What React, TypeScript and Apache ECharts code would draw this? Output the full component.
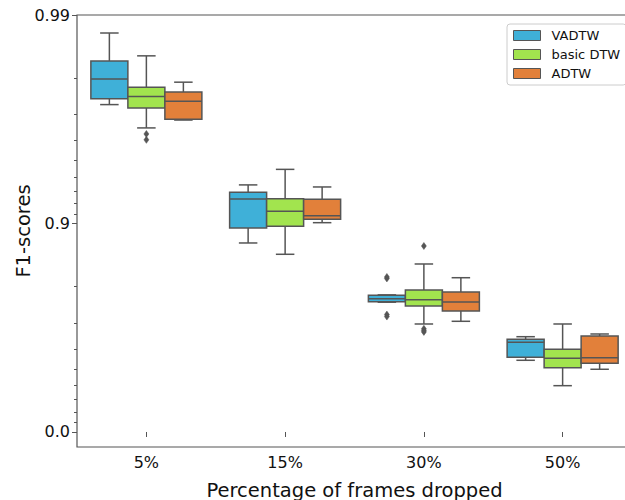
import React, { useEffect, useRef } from "react";
import * as echarts from "echarts";

const categories = ["5%", "15%", "30%", "50%"];
const seriesNames = ["VADTW", "basic DTW", "ADTW"];
const seriesColors = ["#3fb0d8", "#a2e44e", "#e2803a"];

// [min, Q1, median, Q3, max] F1-scores per category
const vadtwStats = [
  [0.9731, 0.9748, 0.9797, 0.9834, 0.9878],
  [0.876, 0.8949, 0.9237, 0.9292, 0.9347],
  [0.7615, 0.7629, 0.7706, 0.779, 0.78],
  [0.547, 0.5618, 0.6286, 0.6407, 0.6509],
];
const basicStats = [
  [0.9652, 0.9721, 0.9754, 0.9778, 0.9843],
  [0.8595, 0.8969, 0.9126, 0.924, 0.945],
  [0.6966, 0.7514, 0.7681, 0.7916, 0.8436],
  [0.4004, 0.5085, 0.5569, 0.5988, 0.6966],
];
const adtwStats = [
  [0.9681, 0.9684, 0.9741, 0.9766, 0.979],
  [0.9009, 0.9045, 0.9082, 0.9235, 0.9332],
  [0.7055, 0.7371, 0.7622, 0.7869, 0.818],
  [0.4997, 0.5318, 0.5599, 0.6537, 0.6612],
];
// [category index, F1-score]
const vadtwOutliers = [
  [2, 0.8195],
  [2, 0.8165],
  [2, 0.7265],
  [2, 0.7205],
];
const basicOutliers = [
  [0, 0.9628],
  [0, 0.9603],
  [2, 0.8718],
  [2, 0.68],
  [2, 0.674],
  [2, 0.669],
];
const adtwOutliers: number[][] = [];

const yTickValues = [0.0, 0.9, 0.99];
const yTickLabels = ["0.0", "0.9", "0.99"];
const yMinorTickValues = [
  0.1, 0.2, 0.3, 0.4, 0.5, 0.6, 0.7, 0.8, 0.91, 0.92, 0.93, 0.94, 0.95, 0.96,
  0.97, 0.98,
];

const EDGE = "#555555";
const FONT = "DejaVu Sans";

const toAxis = (f: number) => -Math.log10(1 - f);

const allStats = [vadtwStats, basicStats, adtwStats];
const allOutliers = [vadtwOutliers, basicOutliers, adtwOutliers];

function makeBoxRender(sIdx: number, color: string) {
  return (params: any, api: any) => {
    const cat = api.value(0);
    const center = api.coord([cat, 0]);
    const band = api.size([1, 0])[0];
    const boxW = (band * 0.8) / 3;
    const cx = center[0] + (sIdx - 1) * boxW;
    const y = (k: number) => api.coord([cat, api.value(k)])[1];
    const yMin = y(1);
    const yQ1 = y(2);
    const yMed = y(3);
    const yQ3 = y(4);
    const yMax = y(5);
    const half = boxW / 2;
    const cap = boxW / 4;
    const ls = { stroke: EDGE, lineWidth: 1.5 };
    return {
      type: "group",
      children: [
        { type: "line", shape: { x1: cx, y1: yQ3, x2: cx, y2: yMax }, style: ls },
        { type: "line", shape: { x1: cx, y1: yQ1, x2: cx, y2: yMin }, style: ls },
        { type: "line", shape: { x1: cx - cap, y1: yMax, x2: cx + cap, y2: yMax }, style: ls },
        { type: "line", shape: { x1: cx - cap, y1: yMin, x2: cx + cap, y2: yMin }, style: ls },
        {
          type: "rect",
          shape: { x: cx - half, y: yQ3, width: boxW, height: yQ1 - yQ3 },
          style: { fill: color, stroke: EDGE, lineWidth: 1.5 },
        },
        { type: "line", shape: { x1: cx - half, y1: yMed, x2: cx + half, y2: yMed }, style: ls },
      ],
    };
  };
}

function makeOutlierRender(sIdx: number) {
  return (params: any, api: any) => {
    const cat = api.value(0);
    const band = api.size([1, 0])[0];
    const boxW = (band * 0.8) / 3;
    const p = api.coord([cat, api.value(1)]);
    const cx = p[0] + (sIdx - 1) * boxW;
    const cy = p[1];
    return {
      type: "polygon",
      shape: {
        points: [
          [cx, cy - 3.5],
          [cx + 2.5, cy],
          [cx, cy + 3.5],
          [cx - 2.5, cy],
        ],
      },
      style: { fill: EDGE, stroke: EDGE, lineWidth: 0.5 },
    };
  };
}

export default function App() {
  const ref = useRef<HTMLDivElement>(null);
  useEffect(() => {
    if (!ref.current) return;
    const chart = echarts.init(ref.current, undefined, { renderer: "svg" });
    const series: any[] = [];
    seriesNames.forEach((name, s) => {
      series.push({
        name,
        type: "custom",
        xAxisIndex: 0,
        yAxisIndex: 0,
        itemStyle: { color: seriesColors[s] },
        renderItem: makeBoxRender(s, seriesColors[s]),
        encode: { x: 0, y: [1, 2, 3, 4, 5] },
        data: allStats[s].map((st, i) => [i, ...st.map(toAxis)]),
        z: 3,
      });
      if (allOutliers[s].length) {
        series.push({
          name,
          type: "custom",
          xAxisIndex: 0,
          yAxisIndex: 0,
          itemStyle: { color: seriesColors[s] },
          renderItem: makeOutlierRender(s),
          encode: { x: 0, y: 1 },
          data: allOutliers[s].map((o) => [o[0], toAxis(o[1])]),
          z: 3,
        });
      }
    });
    const tickPos = yTickValues.map(toAxis);
    chart.setOption({
      animation: false,
      textStyle: { fontFamily: FONT },
      grid: {
        left: 77,
        right: -7,
        top: 15,
        bottom: 53,
        outerBoundsMode: "none",
        containLabel: false,
        show: true,
        borderColor: EDGE,
        borderWidth: 1.2,
        backgroundColor: "transparent",
      },
      legend: {
        left: 507,
        top: 24,
        orient: "vertical",
        itemWidth: 27,
        itemHeight: 10,
        itemGap: 6,
        padding: [5, 6, 5, 6],
        borderColor: "#cccccc",
        borderWidth: 1,
        borderRadius: 3,
        backgroundColor: "#ffffff",
        icon: "rect",
        textStyle: { fontFamily: FONT, fontSize: 13, color: "#111", padding: [0, 0, 0, 6] },
        data: seriesNames.map((n, i) => ({
          name: n,
          itemStyle: { color: seriesColors[i], borderColor: EDGE, borderWidth: 1 },
        })),
      },
      xAxis: {
        type: "category",
        data: categories,
        axisLine: { show: false },
        axisTick: { show: true, alignWithLabel: true, length: 5, lineStyle: { color: EDGE } },
        axisLabel: { fontFamily: FONT, fontSize: 16, color: "#111", margin: 7 },
        name: "Percentage of frames dropped",
        nameLocation: "middle",
        nameGap: 33,
        nameMoveOverlap: false,
        nameTextStyle: { fontFamily: FONT, fontSize: 19.5, color: "#111" },
        splitLine: { show: false },
      },
      yAxis: [
        {
          type: "value",
          min: -0.072,
          max: 2,
          axisLine: { show: false },
          splitLine: { show: false },
          axisTick: {
            show: true,
            length: 5,
            customValues: tickPos,
            lineStyle: { color: EDGE },
          },
          axisLabel: {
            fontFamily: FONT,
            fontSize: 16,
            color: "#111",
            margin: 7,
            customValues: tickPos,
            formatter: (v: number) => {
              let best = 0;
              tickPos.forEach((t, i) => {
                if (Math.abs(t - v) < Math.abs(tickPos[best] - v)) best = i;
              });
              return yTickLabels[best];
            },
          },
          name: "F1-scores",
          nameLocation: "middle",
          nameGap: 44,
          nameMoveOverlap: false,
          nameTextStyle: { fontFamily: FONT, fontSize: 19.5, color: "#111" },
        },
        {
          type: "value",
          min: -0.072,
          max: 2,
          position: "left",
          axisLine: { show: false },
          splitLine: { show: false },
          axisLabel: { show: false },
          axisTick: {
            show: true,
            length: 3,
            customValues: yMinorTickValues.map(toAxis),
            lineStyle: { color: EDGE },
          },
        },
      ],
      series,
    });
    return () => chart.dispose();
  }, []);
  return (
    <div
      ref={ref}
      style={{ position: "absolute", left: 0, top: 0, width: 625, height: 500 }}
    />
  );
}
